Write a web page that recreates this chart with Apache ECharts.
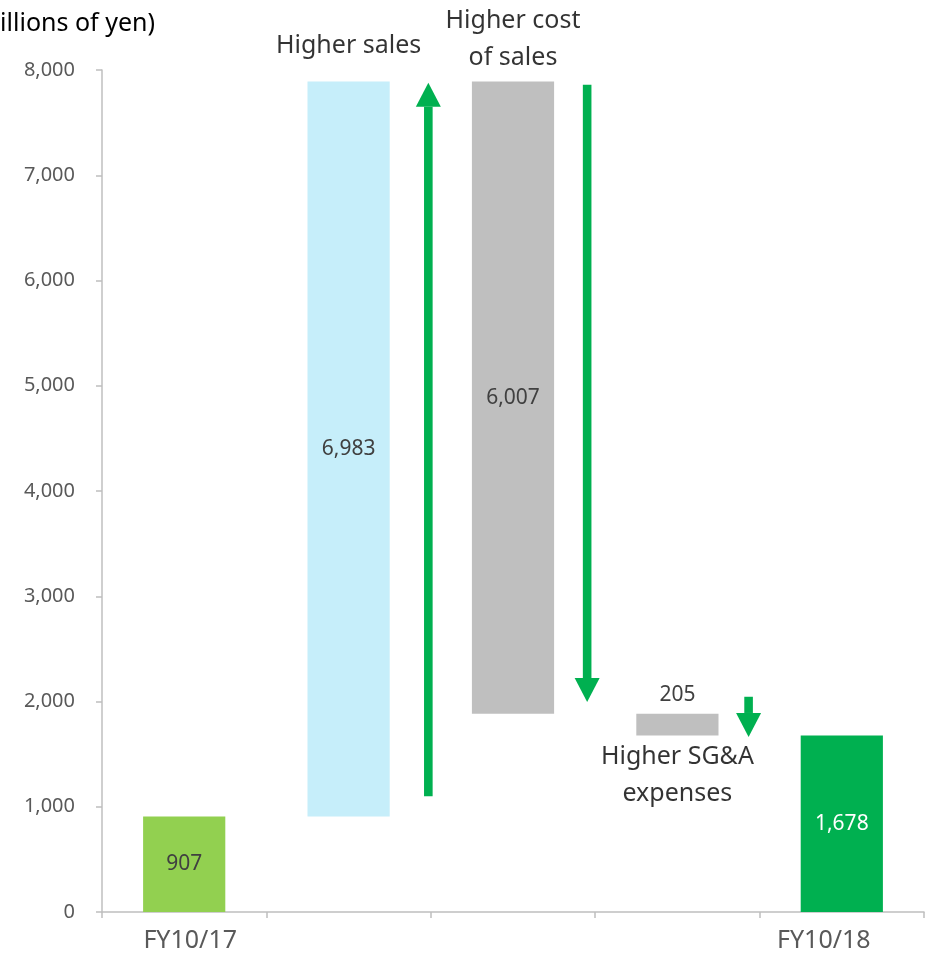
<!DOCTYPE html>
<html>
<head>
<meta charset="utf-8">
<title>Operating income bridge</title>
<script src="https://cdn.jsdelivr.net/npm/echarts@6/dist/echarts.min.js"></script>
<style>
  html, body { margin: 0; padding: 0; background: #ffffff; }
  #chart { width: 928px; height: 960px; }
</style>
</head>
<body>
<div id="chart"></div>
<script>
// Operating income bridge, FY10/17 -> FY10/18 (millions of yen)
const categories = ['FY10/17', 'Higher sales', 'Higher cost of sales', 'Higher SG&A expenses', 'FY10/18'];
const shownCategoryLabels = ['FY10/17', 'FY10/18'];
const startValue = 907;
const salesIncrease = 6983;
const costIncrease = 6007;
const sgaIncrease = 205;
const endValue = 1678;
const yTicks = [0, 1000, 2000, 3000, 4000, 5000, 6000, 7000, 8000];

// Arrows: [category index, from value, to value]
const arrows = [
  [1, 1100, 7880],
  [2, 7860, 1995],
  [3, 2045, 1663]
];

const FONT = '"Noto Sans", "Liberation Sans", sans-serif';
const GREEN = '#00b050';

// Waterfall: invisible base + visible step
const afterSales = startValue + salesIncrease;
const afterCost = afterSales - costIncrease;
const afterSga = afterCost - sgaIncrease;
const baseValues = [0, startValue, afterCost, afterSga, 0];
const stepValues = [startValue, salesIncrease, costIncrease, sgaIncrease, endValue];
const stepColors = ['#92d050', '#c6eefa', '#bfbfbf', '#bfbfbf', '#00b050'];
const fmt = v => v.toLocaleString('en-US');

// Horizontal placement of each arrow within its band (fraction of band width from centre)
const arrowOffsets = [0.485, 0.451, 0.433];

const chart = echarts.init(document.getElementById('chart'));

const labelStyles = [
  { position: 'inside', color: '#404040' },
  { position: 'inside', color: '#404040' },
  { position: 'inside', color: '#404040' },
  { position: 'top', color: '#404040', distance: 8 },
  { position: 'inside', color: '#ffffff' }
];

const noteLabel = (text, position, distance) => ({
  show: true,
  position: position,
  distance: distance,
  formatter: text,
  fontSize: 25,
  lineHeight: 37,
  color: '#000000',
  fontFamily: FONT,
  align: 'center'
});

chart.setOption({
  backgroundColor: '#ffffff',
  animation: false,
  textStyle: { fontFamily: FONT },
  grid: { left: 102, right: 4, top: 70, bottom: 48 },
  graphic: [{
    type: 'text',
    right: 928 - 155,
    top: 11,
    style: { text: '(Millions of yen)', font: '25px ' + FONT, fill: '#000000', textAlign: 'right' }
  }],
  xAxis: {
    type: 'category',
    data: categories,
    axisLine: { show: true, lineStyle: { color: '#bfbfbf', width: 1.5 } },
    axisTick: { show: true, length: 6, lineStyle: { color: '#bfbfbf', width: 1.5 } },
    axisLabel: {
      margin: 16,
      interval: 0,
      formatter: v => {
        if (v === shownCategoryLabels[0]) return '{a|' + v + '}';
        if (v === shownCategoryLabels[1]) return '{b|' + v + '}';
        return '';
      },
      rich: {
        a: { fontSize: 25, color: '#595959', fontFamily: FONT, padding: [0, 0, 0, 12] },
        b: { fontSize: 25, color: '#595959', fontFamily: FONT, padding: [0, 36, 0, 0] }
      }
    }
  },
  yAxis: {
    type: 'value',
    min: yTicks[0],
    max: yTicks[yTicks.length - 1],
    interval: 1000,
    splitLine: { show: false },
    axisLine: { show: true, lineStyle: { color: '#bfbfbf', width: 1.5 } },
    axisTick: { show: true, length: 6, lineStyle: { color: '#bfbfbf', width: 1.5 } },
    axisLabel: { margin: 27, fontSize: 20, color: '#595959', fontFamily: FONT, formatter: v => fmt(v) }
  },
  series: [
    {
      name: 'base',
      type: 'bar',
      stack: 'bridge',
      barWidth: '50%',
      silent: true,
      itemStyle: { color: 'transparent' },
      data: baseValues
    },
    {
      name: 'change',
      type: 'bar',
      stack: 'bridge',
      barWidth: '50%',
      data: stepValues.map((v, i) => ({
        value: v,
        itemStyle: { color: stepColors[i] },
        label: Object.assign({
          show: true,
          fontSize: 21,
          fontFamily: FONT,
          formatter: fmt(v)
        }, labelStyles[i])
      }))
    },
    {
      name: 'annotations',
      type: 'scatter',
      symbolSize: 0,
      silent: true,
      z: 5,
      data: [
        { value: [1, afterSales], label: noteLabel('Higher sales', 'top', 17) },
        { value: [2, afterSales], label: noteLabel('Higher cost\nof sales', 'top', 5) },
        { value: [3, afterSga], label: noteLabel('Higher SG&A\nexpenses', 'bottom', 3) }
      ]
    },
    {
      name: 'arrows',
      type: 'custom',
      silent: true,
      clip: false,
      z: 6,
      encode: { x: 0, y: [1, 2] },
      data: arrows,
      renderItem: (params, api) => {
        const cat = api.value(0);
        const p0 = api.coord([cat, api.value(1)]);
        const p1 = api.coord([cat, api.value(2)]);
        const band = api.size([1, 0])[0];
        const x = p0[0] + arrowOffsets[params.dataIndex] * band;
        const dir = p1[1] < p0[1] ? -1 : 1;
        const headLen = 24, headHalf = 12.5, shaftHalf = 4.3;
        const yBase = p1[1] - dir * headLen;
        return {
          type: 'group',
          children: [
            {
              type: 'rect',
              shape: { x: x - shaftHalf, y: Math.min(p0[1], yBase), width: shaftHalf * 2, height: Math.abs(yBase - p0[1]) },
              style: { fill: GREEN }
            },
            {
              type: 'polygon',
              shape: { points: [[x - headHalf, yBase], [x + headHalf, yBase], [x, p1[1]]] },
              style: { fill: GREEN }
            }
          ]
        };
      }
    }
  ]
});
</script>
</body>
</html>
